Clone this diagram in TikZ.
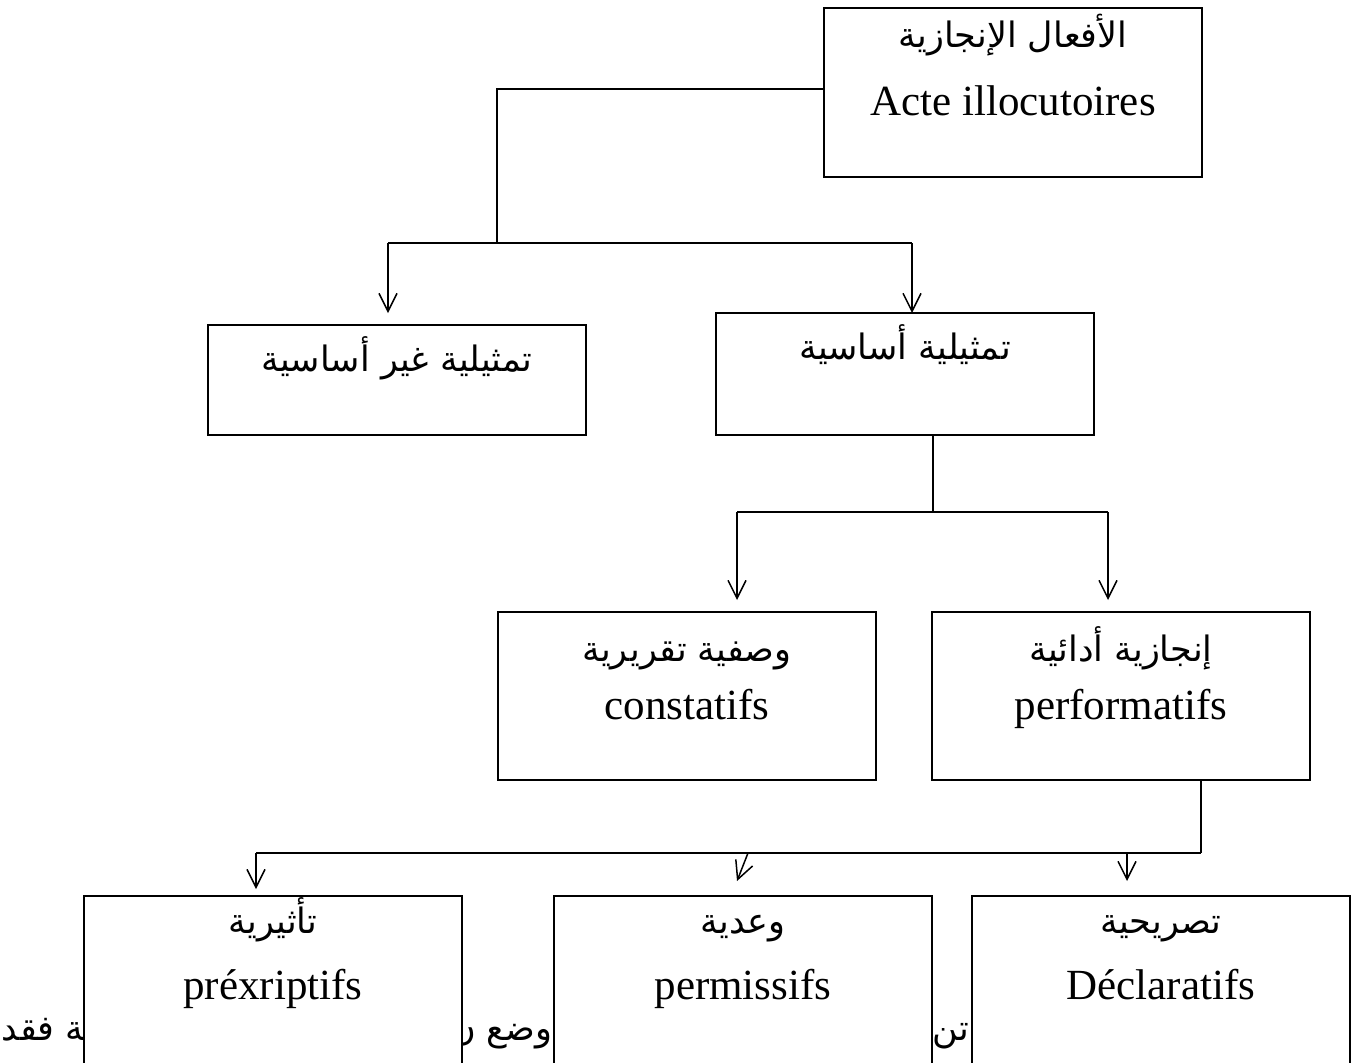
\documentclass[tikz,border=0pt]{standalone}
\usepackage{fontspec}
\setmainfont{Liberation Serif}
\newfontfamily\arabicfont[Script=Arabic]{DejaVu Sans}
\TeXXeTstate=1
\usetikzlibrary{arrows.meta,positioning}

\begin{document}
\begin{tikzpicture}[
    x=0.5pt, y=-0.5pt, line width=0.75pt,
    box/.style={draw, fill=white, minimum width=189pt, inner sep=0pt},
    ar/.style={font=\arabicfont\fontsize{17.5}{20}\selectfont, inner sep=0pt, anchor=base},
    fr/.style={font=\fontsize{21.5}{24}\selectfont, inner sep=0pt, anchor=base},
    arr/.style={-{Straight Barb[length=9pt,width=9pt]}}
]
    \useasboundingbox (0,0) rectangle (1359,1062);
    \clip (0,0) rectangle (1359,1062);

    % text of the page running behind the bottom boxes
    \node[ar, anchor=base west] (frag1) at (1,1040) {\beginR ية فقد\endR};
    \node[ar, anchor=base east] (frag2) at (553,1040) {\beginR وضع ن\endR};
    \node[ar, anchor=base east] (frag3) at (970,1040) {\beginR تن ا\endR};

    % boxes
    \node[box, minimum height=84.5pt] (acts) at (1013,92.5) {};
    \node[box, minimum height=55pt] (nonbasic) at (397,380) {};
    \node[box, minimum height=61pt] (basic) at (905,374) {};
    \node[box, minimum height=84pt] (const) at (687,696) {};
    \node[box, minimum height=84pt] (perf) at (1121,696) {};
    \node[box, minimum height=89.5pt] (prescr) at (273,985.5) {};
    \node[box, minimum height=89.5pt] (perm) at (743,985.5) {};
    \node[box, minimum height=89.5pt] (decl) at (1161,985.5) {};

    % labels
    \node[ar] (actsAr) at ([yshift=-20pt]acts.north) {\beginR الأفعال الإنجازية\endR};
    \node[fr] (actsFr) at ([yshift=-54pt]acts.north) {Acte illocutoires};
    \node[ar] (nonbasicAr) at ([yshift=-23.5pt]nonbasic.north) {\beginR تمثيلية غير أساسية\endR};
    \node[ar] (basicAr) at ([yshift=-23.5pt]basic.north) {\beginR تمثيلية أساسية\endR};
    \node[ar] (constAr) at ([yshift=-25pt]const.north) {\beginR وصفية تقريرية\endR};
    \node[fr] (constFr) at ([yshift=-54pt]const.north) {constatifs};
    \node[ar] (perfAr) at ([yshift=-25pt]perf.north) {\beginR إنجازية أدائية\endR};
    \node[fr] (perfFr) at ([yshift=-54pt]perf.north) {performatifs};
    \node[ar] (prescrAr) at ([yshift=-19pt]prescr.north) {\beginR تأثيرية\endR};
    \node[fr] (prescrFr) at ([yshift=-52pt]prescr.north) {préxriptifs};
    \node[ar] (permAr) at ([yshift=-19pt]perm.north) {\beginR وعدية\endR};
    \node[fr] (permFr) at ([yshift=-52pt]perm.north) {permissifs};
    \node[ar] (declAr) at ([yshift=-19pt]decl.north) {\beginR تصريحية\endR};
    \node[fr] (declFr) at ([yshift=-52pt]decl.north) {Déclaratifs};

    % connectors
    \coordinate (j1) at (497,243);
    \coordinate (b1l) at (388,243);
    \coordinate (b1r) at (912,243);
    \draw ([yshift=1.75pt]acts.west) -| (j1);
    \draw (b1l) -- (b1r);
    \draw[arr] (b1l) -- ++(0,70);
    \draw[arr] (b1r) -- ++(0,70);

    \coordinate (j2) at (933,512);
    \coordinate (b2l) at (737,512);
    \coordinate (b2r) at (1108,512);
    \draw (j2 |- basic.south) -- (j2);
    \draw (b2l) -- (b2r);
    \draw[arr] (b2l) -- ++(0,88);
    \draw[arr] (b2r) -- ++(0,88);

    \coordinate (j3) at (1201,853);
    \coordinate (b3l) at (256,853);
    \coordinate (b3m) at (748,853);
    \coordinate (b3r) at (1127,853);
    \draw (j3 |- perf.south) -- (j3);
    \draw (b3l) -- (j3);
    \draw[arr] (b3l) -- ++(0,36);
    \draw[arr] (b3m) -- ++(-11,28);
    \draw[arr] (b3r) -- ++(0,28);
\end{tikzpicture}
\end{document}
